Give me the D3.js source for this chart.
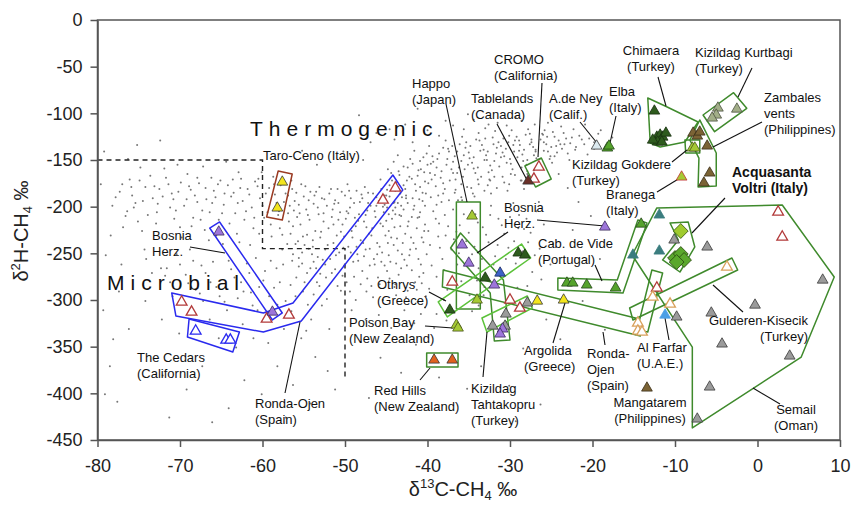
<!DOCTYPE html>
<html>
<head>
<meta charset="utf-8">
<script src="https://cdn.jsdelivr.net/npm/d3@7"></script>
<style>
  body { margin: 0; background: #fff; }
  text { font-family: "Liberation Sans", Arial, sans-serif; }
</style>
</head>
<body>
<svg id="chart" width="851" height="506"></svg>
<script>
'use strict';

/* Data */

var xTicks = [-80, -70, -60, -50, -40, -30, -20, -10, 0, 10];
var yTicks = [0, -50, -100, -150, -200, -250, -300, -350, -400, -450];

// background: global natural gas compilation
var gasCloud = `
-77.3,-184 -76.1,-171 -75.4,-196 -74.2,-179 -73.6,-167 -72.8,-206 -72.1,-189 -71.4,-176 -70.7,-213 -70.2,-184
-69.5,-199 -69.1,-165 -68.6,-221 -68.2,-188 -67.7,-175 -67.3,-204 -66.8,-192 -66.2,-169 -65.9,-183 -65.3,-214
-64.7,-198 -64.2,-177 -63.8,-189 -63.3,-207 -62.9,-163 -62.4,-194 -61.8,-181 -61.3,-201 -60.9,-173 -60.3,-191
-59.8,-212 -59.2,-180 -58.7,-168 -58.3,-196 -57.9,-223 -74.6,-226 -71.9,-159 -69.8,-233 -66.5,-236 -63.1,-229
-61.5,-241 -76.4,-205 -78.2,-199 -75.1,-216 -67.2,-157 -64.4,-152 -70.3,-155 -62.2,-214 -68.4,-212 -65.6,-231
-71.2,-201 -73.3,-191 -66.1,-196 -63.5,-185 -60.6,-178 -59.4,-206 -57.2,-186 -56.8,-216 -72.5,-181 -68.9,-178
-65.1,-172 -62.6,-170 -60.1,-163 -67.9,-195 -64.9,-207 -61.1,-223 -58.9,-232 -70.8,-192 -75.8,-188
-79.2,-141 -78.4,-231 -77.1,-262 -79.3,-311 -78.5,-371 -76.3,-149 -79.6,-176 -79.0,-252 -77.4,-291 -76.2,-331
-74.3,-246 -73.4,-271 -78.1,-342 -75.2,-134 -72.4,-129 -79.1,-401 -77.6,-409 -74.8,-158 -76.9,-222
-74.1,-256 -72.3,-266 -71.2,-281 -70.4,-251 -69.3,-273 -68.1,-289 -67.4,-263 -66.3,-281 -65.2,-296 -64.1,-258
-63.4,-276 -62.3,-291 -61.9,-261 -61.2,-306 -60.4,-286 -59.7,-269 -59.2,-296 -58.3,-266 -57.9,-281 -57.2,-301
-56.3,-251 -55.9,-276 -55.1,-291 -54.2,-266 -53.4,-281 -52.8,-306 -72.2,-321 -70.1,-336 -66.4,-321 -65.3,-341
-62.4,-326 -61.1,-341 -59.3,-346 -57.4,-331 -55.3,-341 -54.1,-321 -52.2,-299 -51.9,-331 -67.2,-301 -64.3,-311
-74.2,-301 -63.2,-351 -60.8,-255 -57.6,-246 -68.8,-246 -71.6,-266
-72.1,-381 -69.2,-396 -67.3,-371 -64.1,-416 -62.2,-386 -60.1,-401 -58.2,-371 -56.3,-391 -54.2,-411 -52.1,-376
-51.2,-396 -71.3,-426 -66.1,-431 -57.2,-426 -53.6,-361
-56.4,-181 -56.1,-194 -55.8,-211 -56.6,-229 -55.3,-176 -55.0,-189 -54.7,-203 -55.4,-219 -54.9,-241 -55.2,-261
-54.2,-184 -53.8,-197 -54.5,-209 -53.6,-226 -54.0,-251 -53.1,-179 -52.8,-191 -53.3,-201 -52.6,-216 -53.0,-233
-52.4,-246 -53.5,-266 -51.9,-186 -52.2,-199 -51.6,-211 -52.0,-223 -51.4,-239 -51.8,-256 -52.3,-276 -50.9,-181
-51.2,-193 -50.6,-206 -50.3,-219 -51.0,-231 -50.7,-249 -50.1,-263 -49.7,-176 -50.0,-188 -49.4,-201 -49.9,-213
-49.2,-226 -49.6,-243 -49.0,-259 -49.8,-281 -48.6,-183 -48.9,-196 -48.3,-208 -48.7,-221 -48.1,-236 -48.5,-251
-47.9,-269 -47.6,-179 -47.9,-191 -47.3,-204 -47.7,-216 -47.1,-229 -47.5,-246 -47.0,-263 -47.4,-291 -46.6,-186
-46.9,-199 -46.3,-211 -46.7,-223 -46.1,-239 -46.5,-256 -46.0,-276 -45.6,-181 -45.9,-194 -45.3,-206 -45.7,-218
-45.1,-231 -45.5,-249 -44.9,-269 -44.6,-189 -44.9,-201 -44.3,-213 -44.7,-226 -44.1,-241 -44.5,-259 -44.0,-286
-43.6,-196 -43.9,-208 -43.3,-221 -43.7,-234 -43.1,-251 -43.5,-273 -42.6,-191 -42.9,-203 -42.3,-216 -42.7,-229
-42.1,-246 -42.5,-263 -41.6,-199 -41.9,-211 -41.3,-223 -41.7,-239 -41.1,-256 -41.5,-281 -40.6,-194 -40.9,-206
-40.3,-219 -40.7,-233 -40.1,-251 -40.5,-271 -40.2,-296
-51.3,-197 -50.4,-184 -49.3,-191 -48.0,-187 -47.2,-196 -46.2,-190 -45.2,-198 -44.2,-204 -43.2,-199 -50.8,-214
-49.6,-207 -48.4,-215 -47.4,-222 -46.4,-205 -45.0,-215 -44.0,-222 -53.7,-188 -52.6,-207 -51.5,-203 -55.6,-198
-54.4,-193 -56.9,-188 -56.2,-204 -55.7,-237 -54.6,-230 -53.9,-243
-50.5,-290 -48.7,-300 -46.8,-285 -45.4,-300 -43.8,-295 -42.4,-290 -41.2,-302 -49.2,-311 -47.5,-321 -45.9,-316
-44.4,-330 -42.8,-311 -41.6,-325
-44.8,-160 -44.3,-172 -43.9,-183 -43.4,-166 -42.9,-177 -42.4,-158 -41.9,-170 -41.4,-183 -40.9,-151 -40.4,-163
-39.9,-175 -39.4,-146 -38.9,-158 -38.4,-169 -37.9,-181 -37.4,-141 -36.9,-152 -36.4,-164 -35.9,-176 -35.4,-137
-34.9,-148 -34.4,-159 -33.9,-171 -33.4,-134 -32.9,-145 -32.4,-156 -31.9,-168 -31.4,-131 -30.9,-142 -30.4,-153
-29.9,-165 -29.4,-129 -28.9,-140 -28.4,-151 -27.9,-162 -27.4,-128 -26.9,-139 -26.4,-149 -25.9,-131 -25.4,-141
-24.9,-153 -24.4,-135
-44.1,-152 -43.1,-190 -42.1,-149 -41.1,-161 -40.1,-143 -39.1,-166 -38.1,-137 -37.1,-160 -36.1,-133 -35.1,-155
-34.1,-128 -33.1,-150 -32.1,-126 -31.1,-147 -30.1,-124 -29.1,-147 -28.1,-123 -27.1,-145 -26.1,-122 -25.1,-146
-39.6,-154 -37.6,-149 -35.6,-145 -33.6,-140 -31.6,-137 -29.6,-134 -27.6,-133 -38.7,-188 -36.7,-185 -34.7,-180
-32.7,-177 -30.7,-174 -28.7,-172 -26.7,-157
-43.6,-145 -41.6,-140 -39.8,-135 -37.8,-129 -35.8,-125 -33.8,-121 -31.8,-119 -29.8,-118 -27.8,-117 -25.8,-118
-42.6,-188 -40.6,-185 -38.3,-195 -36.3,-193 -34.3,-189 -32.3,-186 -30.3,-183 -28.3,-181 -40.3,-173 -36.6,-171
-32.6,-163 -28.6,-158 -24.6,-125
-39.3,-205 -38.6,-218 -37.8,-231 -37.1,-246 -36.4,-262 -38.9,-275 -37.6,-289 -39.7,-241 -38.2,-256 -36.9,-203
-36.1,-220 -35.3,-237 -34.6,-251 -33.8,-266 -35.8,-193 -34.2,-208 -33.3,-222 -32.6,-238 -31.8,-253 -33.1,-286
-32.3,-199 -31.4,-213 -30.7,-229 -30.2,-244 -29.6,-196 -28.9,-209 -28.3,-224 -27.8,-238 -29.3,-261 -38.0,-300
-36.7,-312 -34.9,-295 -40.8,-315 -39.2,-330 -26.8,-205 -25.9,-219 -26.4,-245 -27.3,-270 -25.1,-262
-48.3,-102 -44.6,-117 -41.2,-95 -37.8,-108 -35.1,-101 -32.6,-112 -29.3,-104 -46.9,-131 -50.2,-141 -47.8,-150
-53.4,-155 -55.2,-140
-23.4,-133 -22.1,-139 -21.3,-128 -20.6,-144 -19.8,-131 -22.8,-150 -24.1,-165 -23.0,-180 -21.7,-195 -20.2,-210
-22.4,-225 -24.8,-240 -19.1,-256 -21.2,-301 -25.6,-321 -23.9,-342 -18.5,-332 -26.2,-358
-48.1,-345 -45.7,-362 -43.2,-378 -41.4,-348 -38.6,-383 -35.2,-395 -33.5,-371 -30.1,-392 -28.4,-352 -26.3,-412
-47.1,-405 -29.3,-430
-45.7,-171 -45.2,-188 -44.6,-177 -44.0,-195 -43.5,-162 -43.8,-174 -42.7,-181 -42.2,-168 -41.8,-154 -41.5,-176
-40.8,-160 -40.5,-147 -40.2,-186 -39.7,-164 -39.3,-152 -39.0,-178 -38.6,-143 -38.3,-162 -37.7,-155 -37.3,-172
-37.0,-135 -36.7,-146 -36.2,-158 -35.7,-168 -35.3,-131 -35.0,-142 -34.6,-153 -34.2,-164 -33.7,-129 -33.2,-139
-32.8,-150 -32.5,-171 -32.0,-133 -31.7,-143 -31.3,-157 -30.8,-127 -30.5,-138 -30.0,-149 -29.7,-160 -29.2,-125
-28.8,-134 -28.5,-144 -28.0,-155 -27.6,-122 -27.2,-136 -26.8,-148 -26.3,-128 -25.9,-140 -25.5,-125 -25.0,-136
-24.6,-146 -24.1,-129 -23.7,-138 -23.2,-127 -22.7,-132
-44.9,-182 -44.4,-164 -43.3,-186 -42.9,-157 -42.5,-172 -41.2,-167 -40.9,-179 -40.0,-155 -39.5,-171 -38.8,-149
-38.1,-175 -37.5,-138 -36.9,-164 -36.4,-141 -35.9,-151 -35.5,-160 -34.8,-135 -34.4,-147 -33.9,-158 -33.5,-168
-33.0,-127 -32.7,-141 -32.2,-161 -31.9,-151 -31.1,-135 -30.7,-146 -30.2,-131 -29.9,-154 -29.5,-141 -28.9,-129
-28.3,-139 -27.9,-150 -27.4,-131 -26.9,-141 -26.5,-155 -26.0,-123 -25.6,-133 -25.2,-149 -24.8,-120 -24.3,-142
-23.9,-133 -23.5,-121 -23.0,-143 -22.5,-126 -22.0,-136 -21.6,-124 -21.0,-133 -20.4,-127 -19.8,-138 -19.3,-122
-45.4,-200 -44.7,-208 -43.9,-201 -43.2,-210 -42.4,-196 -41.7,-203 -41.0,-192 -40.3,-199 -39.6,-190 -38.9,-198
-38.1,-186 -37.4,-193 -36.6,-182 -35.9,-190 -35.2,-179 -34.5,-186 -33.8,-176 -33.1,-183 -32.4,-172 -31.6,-180
-30.9,-168 -30.1,-176 -29.4,-166 -28.6,-172 -27.9,-165 -27.1,-161
-56.7,-199 -56.3,-221 -55.9,-185 -55.5,-207 -55.1,-232 -54.8,-178 -54.3,-214 -53.9,-236 -53.5,-184 -53.2,-208
-52.9,-227 -52.5,-192 -52.1,-241 -51.7,-181 -51.4,-219 -51.1,-252 -50.8,-196 -50.5,-227 -50.2,-244 -49.8,-205
-49.5,-183 -49.1,-233 -48.8,-212 -48.4,-258 -48.2,-195 -47.8,-239 -47.5,-209 -47.2,-185 -46.8,-231 -46.4,-262
-46.2,-199 -45.8,-243 -45.4,-221 -45.0,-188 -44.7,-252 -44.4,-233 -44.1,-196 -43.8,-261 -43.4,-209 -43.0,-239
-42.8,-257 -42.4,-221 -42.0,-233 -41.8,-191 -41.4,-245 -41.0,-211 -40.8,-262 -40.4,-226
-57.8,-177 -57.4,-195 -56.9,-207 -56.5,-172 -56.0,-240 -55.6,-255 -54.6,-271 -53.8,-259 -53.1,-285 -52.4,-262
-51.6,-271 -50.9,-285 -50.3,-274 -49.4,-291 -48.9,-275 -48.1,-283 -47.3,-277 -46.6,-297 -45.8,-283 -45.2,-263
-44.6,-277 -43.9,-283 -43.2,-266 -42.6,-297 -41.9,-268 -41.3,-289 -40.7,-282
-58.5,-187 -58.1,-209 -57.6,-230 -57.0,-240 -56.4,-258 -55.2,-249 -54.4,-245 -53.3,-254 -52.7,-257 -51.2,-267
-50.1,-232 -49.3,-249 -48.6,-243 -47.7,-253 -47.0,-245 -46.1,-251 -45.6,-259 -44.8,-239 -43.6,-247 -42.2,-252
-77.8,-190 -77.0,-176 -76.6,-210 -75.9,-179 -75.6,-201 -74.9,-172 -74.5,-194 -73.9,-209 -73.1,-178 -72.7,-197
-71.7,-169 -71.0,-186 -70.5,-204 -69.9,-174 -69.2,-192 -68.7,-182 -67.9,-169 -67.5,-214 -66.9,-180 -66.4,-206
-65.7,-190 -65.4,-176 -64.6,-186 -64.0,-218 -63.6,-171 -63.0,-196 -62.7,-180 -62.0,-205 -61.6,-187 -61.0,-212
-60.5,-170 -60.0,-199 -59.6,-186 -59.0,-219 -58.6,-176 -58.0,-205 -72.9,-218 -70.0,-222 -67.0,-225 -64.8,-240
-62.8,-238 -60.4,-229
-41.2,-212 -40.5,-238 -39.9,-226 -39.5,-263 -39.0,-213 -38.5,-244 -38.0,-268 -37.5,-221 -37.2,-281 -36.8,-235
-36.2,-250 -35.6,-208 -35.0,-228 -34.3,-243 -33.9,-217 -33.4,-256 -32.9,-230 -32.4,-209 -32.0,-262 -31.5,-241
-31.0,-220 -30.5,-256 -30.0,-211 -29.5,-237 -29.0,-223 -28.5,-248 -28.0,-213 -27.5,-228 -27.0,-252 -26.5,-195
-38.7,-232 -37.9,-209 -36.5,-227 -35.5,-262 -34.0,-279 -33.2,-295 -39.8,-288 -41.0,-275 -40.3,-308 -38.9,-315
-37.7,-322 -35.9,-280 -34.6,-312 -33.8,-306 -29.1,-287 -27.9,-285 -26.2,-278
-71.8,-274 -70.9,-296 -70.0,-262 -69.0,-282 -68.4,-258 -67.6,-293 -66.9,-271 -66.0,-259 -65.6,-286 -64.6,-302
-63.8,-267 -63.0,-298 -62.6,-281 -61.6,-271 -61.4,-292 -60.6,-311 -59.9,-279 -59.0,-258 -58.6,-287 -57.5,-262
-56.6,-284 -56.0,-296 -55.6,-264 -54.9,-281 -54.5,-305 -53.8,-294 -53.0,-272 -58.2,-305 -56.5,-312 -54.7,-333
-46.2,-121 -44.0,-128 -42.7,-112 -41.8,-131 -40.0,-118 -38.6,-124 -36.9,-113 -35.6,-117 -34.4,-107 -33.0,-116
-31.5,-110 -30.4,-113 -28.6,-108 -27.0,-112 -25.4,-110 -23.8,-114 -22.3,-117 -20.9,-112 -19.0,-118 -17.6,-126
`.trim().split(/\s+/).map(function(p) { return p.split(',').map(Number); });

// genetic field boundary (dashed)
var fieldBoundary = [[-80, -150], [-60, -150], [-60, -245], [-50, -245], [-50, -385]];

// serpentinized-rock sites: [d13C, d2H, kind]
var sites = [
  [-65.3, -227.1, 'purple'],
  [-69.8, -302.1, 'redOpen'], [-68.6, -312.9, 'redOpen'],
  [-68.1, -333.2, 'blueOpen'], [-64.4, -342.9, 'blueOpen'], [-63.9, -342.9, 'blueOpen'],
  [-59.5, -320.4, 'redOpen'], [-58.8, -312.9, 'purple'], [-56.8, -316.1, 'redOpen'],
  [-43.9, -180.0, 'redOpen'], [-45.4, -192.9, 'redOpen'],
  [-57.6, -173.6, 'yellow'], [-58.2, -201.4, 'yellow'],
  [-26.5, -157.5, 'redOpen'], [-27.1, -170.4, 'redOpen'], [-27.8, -172.5, 'maroon'],
  [-19.5, -135.0, 'pale'], [-18.2, -137.1, 'green'], [-18.0, -135.0, 'green'],
  [-12.5, -97.5, 'dkgreen'], [-12.2, -125.4, 'dkgreen'], [-11.8, -123.2, 'dkgreen'], [-11.5, -125.4, 'dkgreen'],
  [-11.1, -121.1, 'dkgreen'], [-12.1, -130.7, 'dkgreen'], [-11.6, -130.7, 'dkgreen'], [-12.7, -128.6, 'dkgreen'],
  [-4.8, -94.3, 'olive'], [-5.0, -101.8, 'olive'], [-5.5, -105.0, 'olive'], [-2.5, -95.4, 'olive'],
  [-7.8, -121.1, 'brown'], [-7.3, -124.3, 'brown'], [-7.0, -120.0, 'brown'],
  [-6.1, -135.0, 'brown'], [-5.8, -163.9, 'brown'], [-6.5, -174.6, 'brown'],
  [-7.9, -137.1, 'ygreen'], [-7.6, -137.1, 'ygreen'],
  [-9.2, -168.2, 'branega'],
  [-6.1, -243.2, 'gray'], [7.9, -278.6, 'gray'], [-0.3, -305.4, 'gray'], [-5.6, -313.9, 'gray'],
  [-9.8, -318.2, 'gray'], [-4.3, -347.1, 'gray'], [3.9, -360.0, 'gray'], [-5.8, -393.2, 'gray'],
  [-7.3, -427.5, 'gray'], [-10.1, -235.7, 'gray'],
  [-11.9, -208.9, 'teal'], [-15.1, -251.8, 'teal'], [-11.9, -247.5, 'teal'],
  [-11.2, -316.1, 'ltblue'],
  [2.5, -205.7, 'redOpen'], [3.0, -232.5, 'redOpen'], [-12.2, -287.1, 'redOpen'],
  [-3.7, -264.6, 'tanOpen'], [-10.6, -304.3, 'tanOpen'], [-12.7, -296.8, 'tanOpen'],
  [-14.5, -324.6, 'tanOpen'], [-14.5, -333.2, 'tanOpen'], [-14.0, -334.3, 'tanOpen'],
  [-13.4, -394.3, 'brown'],
  [-34.6, -210.0, 'ygreen'],
  [-35.8, -241.0, 'purple'], [-35.0, -260.4, 'purple'],
  [-29.0, -249.6, 'dkgreen'], [-28.2, -251.8, 'dkgreen'],
  [-31.2, -271.1, 'blue'], [-33.0, -276.4, 'dkgreen'], [-31.9, -283.9, 'purple'],
  [-37.0, -280.7, 'redOpen'], [-30.0, -300.0, 'redOpen'], [-28.8, -308.6, 'redOpen'],
  [-27.9, -303.2, 'gray'], [-26.7, -301.1, 'yellow'], [-23.5, -300.0, 'yellow'],
  [-34.0, -300.0, 'ygreen'], [-37.3, -310.7, 'dkgreen'],
  [-36.5, -326.8, 'ygreen'], [-36.3, -330.0, 'ygreen'],
  [-30.5, -315.0, 'gray'], [-32.1, -327.9, 'gray'], [-30.6, -327.9, 'gray'],
  [-30.9, -331.0, 'purple'], [-31.2, -336.4, 'purple'],
  [-23.1, -281.8, 'green'], [-22.4, -281.8, 'green'], [-20.7, -283.9, 'green'], [-17.2, -287.1, 'green'],
  [-14.1, -218.6, 'green'],
  [-18.5, -221.8, 'purple'],
  [-39.2, -364.3, 'orange'], [-37.0, -364.3, 'orange']
];

// Acquasanta / Voltri springs (diamonds)
var voltri = [
  [-9.3, -226.1, 'lime'],
  [-10.0, -255.0, 'leaf'], [-9.3, -250.7, 'leaf'], [-8.9, -257.1, 'leaf'], [-9.8, -259.3, 'leaf']
];

var blueFields = [
  [[-66.4, -222.9], [-65.2, -216.4], [-57.6, -313.9], [-58.8, -321.4]],
  [[-71.0, -292.5], [-59.9, -313.9], [-56.3, -303.2], [-44.2, -166.1], [-43.0, -182.1],
   [-55.3, -322.5], [-59.9, -334.3], [-70.5, -317.1]],
  [[-68.9, -320.4], [-69.1, -339.6], [-63.6, -355.7], [-62.8, -334.3]]
];
var brownFields = [
  [[-58.1, -161.8], [-56.4, -165.0], [-57.6, -214.3], [-59.5, -211.1]]
];
var greenFields = [
  [[-28.2, -156.4], [-26.2, -147.9], [-25.0, -170.4], [-26.9, -178.9]],
  [[-13.3, -83.6], [-11.2, -92.1], [-7.2, -109.3], [-8.8, -130.7], [-11.8, -136.1], [-13.0, -131.8]],
  [[-6.6, -101.8], [-2.9, -77.9], [-1.3, -94.6], [-5.2, -119.7]],
  [[-8.8, -128.6], [-7.0, -128.6], [-7.0, -142.5], [-8.7, -142.5]],
  [[-7.0, -107.1], [-5.0, -142.5], [-5.0, -177.9], [-7.2, -178.9], [-7.1, -147.9], [-8.2, -128.6]],
  [[-10.6, -217.5], [-8.4, -216.4], [-7.6, -243.2], [-9.4, -270.0], [-11.5, -257.1], [-9.6, -235.7]],
  [[-12.2, -201.4], [3.0, -198.2], [9.3, -275.4], [5.3, -361.1], [-7.9, -437.1], [-7.9, -350.4], [-15.2, -251.8]],
  [[-15.5, -308.6], [-15.1, -321.4], [-2.4, -267.9], [-3.1, -255.0]],
  [[-12.8, -267.9], [-11.5, -271.1], [-13.3, -334.3], [-14.6, -332.1]],
  [[-38.1, -267.9], [-14.8, -319.3], [-14.2, -338.6], [-38.2, -286.1]],
  [[-24.2, -276.4], [-17.0, -278.6], [-14.5, -214.3], [-13.4, -217.5], [-16.3, -292.5], [-24.2, -289.3]],
  [[-36.5, -195.0], [-33.6, -195.0], [-33.6, -309.6], [-36.5, -309.6]],
  [[-37.2, -244.3], [-36.0, -228.2], [-30.8, -278.6], [-30.0, -342.9], [-31.9, -343.9], [-32.4, -292.5]],
  [[-40.1, -356.8], [-36.3, -356.8], [-36.3, -371.8], [-40.1, -371.8]]
];
var lightGreenFields = [
  [[-38.7, -302.1], [-37.6, -318.2], [-27.5, -255.0], [-28.6, -240.0]],
  [[-33.4, -319.3], [-32.8, -334.3], [-27.3, -308.6], [-27.9, -295.7]]
];

/* Styles and layout */

var kinds = {
  gray:    { fill: '#9b9b9b', stroke: '#3a3a3a' },
  dkgreen: { fill: '#2e5b1e', stroke: '#18300f' },
  green:   { fill: '#55a32c', stroke: '#25461a' },
  ygreen:  { fill: '#a5c934', stroke: '#48561a' },
  olive:   { fill: '#a2ae88', stroke: '#4b5040' },
  brown:   { fill: '#7b6335', stroke: '#3a2e18' },
  teal:    { fill: '#3b7d7f', stroke: '#3b7d7f' },
  purple:  { fill: '#9d76da', stroke: '#3b2a5e' },
  blue:    { fill: '#3d62c8', stroke: '#1a2a5e' },
  ltblue:  { fill: '#4b9fe6', stroke: '#4b9fe6' },
  yellow:  { fill: '#f3e51d', stroke: '#333' },
  orange:  { fill: '#e0621f', stroke: '#333' },
  pale:    { fill: '#dbe9ef', stroke: '#333' },
  maroon:  { fill: '#6a3028', stroke: '#333' },
  branega: { fill: '#a5c934', stroke: '#c23232' },
  redOpen: { fill: '#fff', stroke: '#b23a3a' },
  tanOpen: { fill: '#fff', stroke: '#d9a15c' },
  blueOpen:{ fill: '#fff', stroke: '#2b2bf0' },
  lime:    { fill: '#9fcb2e', stroke: '#3a5a12' },
  leaf:    { fill: '#5aa82c', stroke: '#2a4a12' }
};

var labels = [
  { t: ['Taro-Ceno (Italy)'], x: 263, y: 155 },
  { t: ['Bosnia', 'Herz.'], x: 152, y: 235 },
  { t: ['The Cedars', '(California)'], x: 137, y: 357 },
  { t: ['Ronda-Ojen', '(Spain)'], x: 255, y: 403 },
  { t: ['Happo', '(Japan)'], x: 412, y: 83 },
  { t: ['CROMO', '(California)'], x: 494, y: 59 },
  { t: ['Tablelands', '(Canada)'], x: 471, y: 98 },
  { t: ['A.de Ney', '(Calif.)'], x: 549, y: 98 },
  { t: ['Elba', '(Italy)'], x: 609, y: 91 },
  { t: ['Chimaera', '(Turkey)'], x: 651, y: 50, a: 'middle' },
  { t: ['Kizildag Kurtbagi', '(Turkey)'], x: 695, y: 52 },
  { t: ['Zambales', 'vents', '(Philippines)'], x: 764, y: 97 },
  { t: ['Kizildag Gokdere', '(Turkey)'], x: 572, y: 164 },
  { t: ['Branega', '(Italy)'], x: 606, y: 194 },
  { t: ['Acquasanta', 'Voltri (Italy)'], x: 732, y: 172, bold: true },
  { t: ['Bosnia', 'Herz.'], x: 504, y: 207 },
  { t: ['Cab. de Vide', '(Portugal)'], x: 538, y: 243 },
  { t: ['Othrys', '(Greece)'], x: 377, y: 284 },
  { t: ['Poison Bay', '(New Zealand)'], x: 349, y: 322 },
  { t: ['Red Hills', '(New Zealand)'], x: 374, y: 390 },
  { t: ['Kizildag', 'Tahtakopru', '(Turkey)'], x: 471, y: 388 },
  { t: ['Argolida', '(Greece)'], x: 524, y: 350 },
  { t: ['Ronda-', 'Ojen', '(Spain)'], x: 587, y: 353 },
  { t: ['Al Farfar', '(U.A.E.)'], x: 637, y: 347 },
  { t: ['Mangatarem', '(Philippines)'], x: 650, y: 402, a: 'middle' },
  { t: ['Gulderen-Kisecik', '(Turkey)'], x: 808, y: 320, a: 'end' },
  { t: ['Semail', '(Oman)'], x: 796, y: 409, a: 'middle' }
];

var leaders = [
  [190, 247, 225, 253], [300, 322, 285, 393], [446, 104, 467, 202], [542, 83, 538, 157],
  [497, 124, 527, 180], [580, 122, 597, 143], [616, 116, 610, 143], [658, 77, 666, 106],
  [752, 68, 738, 97], [762, 122, 713, 147], [672, 162, 687, 150], [657, 192, 680, 178],
  [725, 198, 692, 233], [537, 220, 605, 226], [508, 232, 477, 253], [595, 265, 602, 281],
  [429, 292, 446, 301], [425, 326, 453, 328], [420, 380, 430, 368], [483, 377, 487, 332],
  [553, 343, 565, 303], [605, 345, 603, 332], [669, 340, 665, 318], [713, 285, 743, 312],
  [753, 388, 780, 404]
];

/* Chart */

var svg = d3.select('#chart');
var x = d3.scaleLinear().domain([-80, 10]).range([97.5, 840]);
var y = d3.scaleLinear().domain([-450, 0]).range([440, 20]);

var openLine = d3.line()
  .x(function(d) { return x(d[0]); })
  .y(function(d) { return y(d[1]); });
var ringLine = d3.line()
  .x(function(d) { return x(d[0]); })
  .y(function(d) { return y(d[1]); })
  .curve(d3.curveLinearClosed);

svg.append('g').selectAll('circle').data(gasCloud).enter().append('circle')
  .attr('cx', function(d) { return x(d[0]); })
  .attr('cy', function(d) { return y(d[1]); })
  .attr('r', 1)
  .attr('fill', '#777');

svg.append('path')
  .attr('d', openLine(fieldBoundary))
  .attr('fill', 'none')
  .attr('stroke', '#222')
  .attr('stroke-width', 1.4)
  .attr('stroke-dasharray', '5,4');

function fields(list, color) {
  svg.append('g').selectAll('path').data(list).enter().append('path')
    .attr('d', ringLine)
    .attr('fill', 'none')
    .attr('stroke', color)
    .attr('stroke-width', 1.5)
    .attr('stroke-linejoin', 'round');
}
fields(blueFields, '#2a2aee');
fields(brownFields, '#9a3a22');
fields(greenFields, '#3f8a2c');
fields(lightGreenFields, '#5cc23a');

svg.append('g').selectAll('line').data(leaders).enter().append('line')
  .attr('x1', function(d) { return d[0]; })
  .attr('y1', function(d) { return d[1]; })
  .attr('x2', function(d) { return d[2]; })
  .attr('y2', function(d) { return d[3]; })
  .attr('stroke', '#111')
  .attr('stroke-width', 1.1);

var tri = d3.symbol().type(d3.symbolTriangle).size(50);
svg.append('g').selectAll('path').data(sites).enter().append('path')
  .attr('d', tri)
  .attr('transform', function(d) { return 'translate(' + x(d[0]) + ',' + y(d[1]) + ')'; })
  .attr('fill', function(d) { return kinds[d[2]].fill; })
  .attr('stroke', function(d) { return kinds[d[2]].stroke; })
  .attr('stroke-width', function(d) { return kinds[d[2]].fill === '#fff' ? 1.3 : 0.8; });

var dia = d3.symbol().type(d3.symbolSquare).size(110);
svg.append('g').selectAll('path').data(voltri).enter().append('path')
  .attr('d', dia)
  .attr('transform', function(d) { return 'translate(' + x(d[0]) + ',' + y(d[1]) + ') rotate(45)'; })
  .attr('fill', function(d) { return kinds[d[2]].fill; })
  .attr('stroke', function(d) { return kinds[d[2]].stroke; })
  .attr('stroke-width', 0.8);

var lab = svg.append('g').attr('font-size', 13).attr('fill', '#111');
labels.forEach(function(l) {
  var t = lab.append('text')
    .attr('x', l.x)
    .attr('y', l.y + 4.5)
    .attr('text-anchor', l.a || 'start')
    .attr('font-weight', l.bold ? 'bold' : null)
    .attr('font-size', l.bold ? 14 : null);
  l.t.forEach(function(s, i) {
    t.append('tspan').attr('x', l.x).attr('dy', i ? 16 : 0).text(s);
  });
});

svg.append('text').attr('x', 250).attr('y', 136)
  .attr('font-size', 21).attr('letter-spacing', 6).attr('fill', '#111')
  .text('Thermogenic');
svg.append('text').attr('x', 107).attr('y', 290)
  .attr('font-size', 21).attr('letter-spacing', 6).attr('fill', '#111')
  .text('Microbial');

// axes
var xAxis = svg.append('g').attr('transform', 'translate(0,440)')
  .call(d3.axisBottom(x).tickValues(xTicks).tickSize(7).tickSizeOuter(0).tickPadding(12)
    .tickFormat(function(d) { return String(d); }));
var yAxis = svg.append('g').attr('transform', 'translate(97.5,0)')
  .call(d3.axisLeft(y).tickValues(yTicks).tickSize(7).tickSizeOuter(0).tickPadding(8)
    .tickFormat(function(d) { return String(d); }));
[xAxis, yAxis].forEach(function(g) {
  g.selectAll('text').attr('font-size', 18).attr('fill', '#222')
    .attr('font-family', '"Liberation Sans", Arial, sans-serif');
  g.selectAll('line').attr('stroke', '#555').attr('stroke-width', 1.5);
  g.select('.domain').attr('stroke', '#555').attr('stroke-width', 1.5);
});

svg.append('rect')
  .attr('x', 97.5).attr('y', 20).attr('width', 742.5).attr('height', 420)
  .attr('fill', 'none').attr('stroke', '#555').attr('stroke-width', 1.5);

var xt = svg.append('text').attr('x', 463).attr('y', 496)
  .attr('text-anchor', 'middle').attr('font-size', 20).attr('fill', '#222');
xt.append('tspan').text('δ');
xt.append('tspan').attr('font-size', 13).attr('dy', -8).text('13');
xt.append('tspan').attr('dy', 8).text('C-CH');
xt.append('tspan').attr('font-size', 13).attr('dy', 4).text('4');
xt.append('tspan').attr('dy', -4).text(' ‰');

var yt = svg.append('text').attr('transform', 'translate(28,231) rotate(-90)')
  .attr('text-anchor', 'middle').attr('font-size', 20).attr('fill', '#222');
yt.append('tspan').text('δ');
yt.append('tspan').attr('font-size', 13).attr('dy', -8).text('2');
yt.append('tspan').attr('dy', 8).text('H-CH');
yt.append('tspan').attr('font-size', 13).attr('dy', 4).text('4');
yt.append('tspan').attr('dy', -4).text(' ‰');
</script>
</body>
</html>
